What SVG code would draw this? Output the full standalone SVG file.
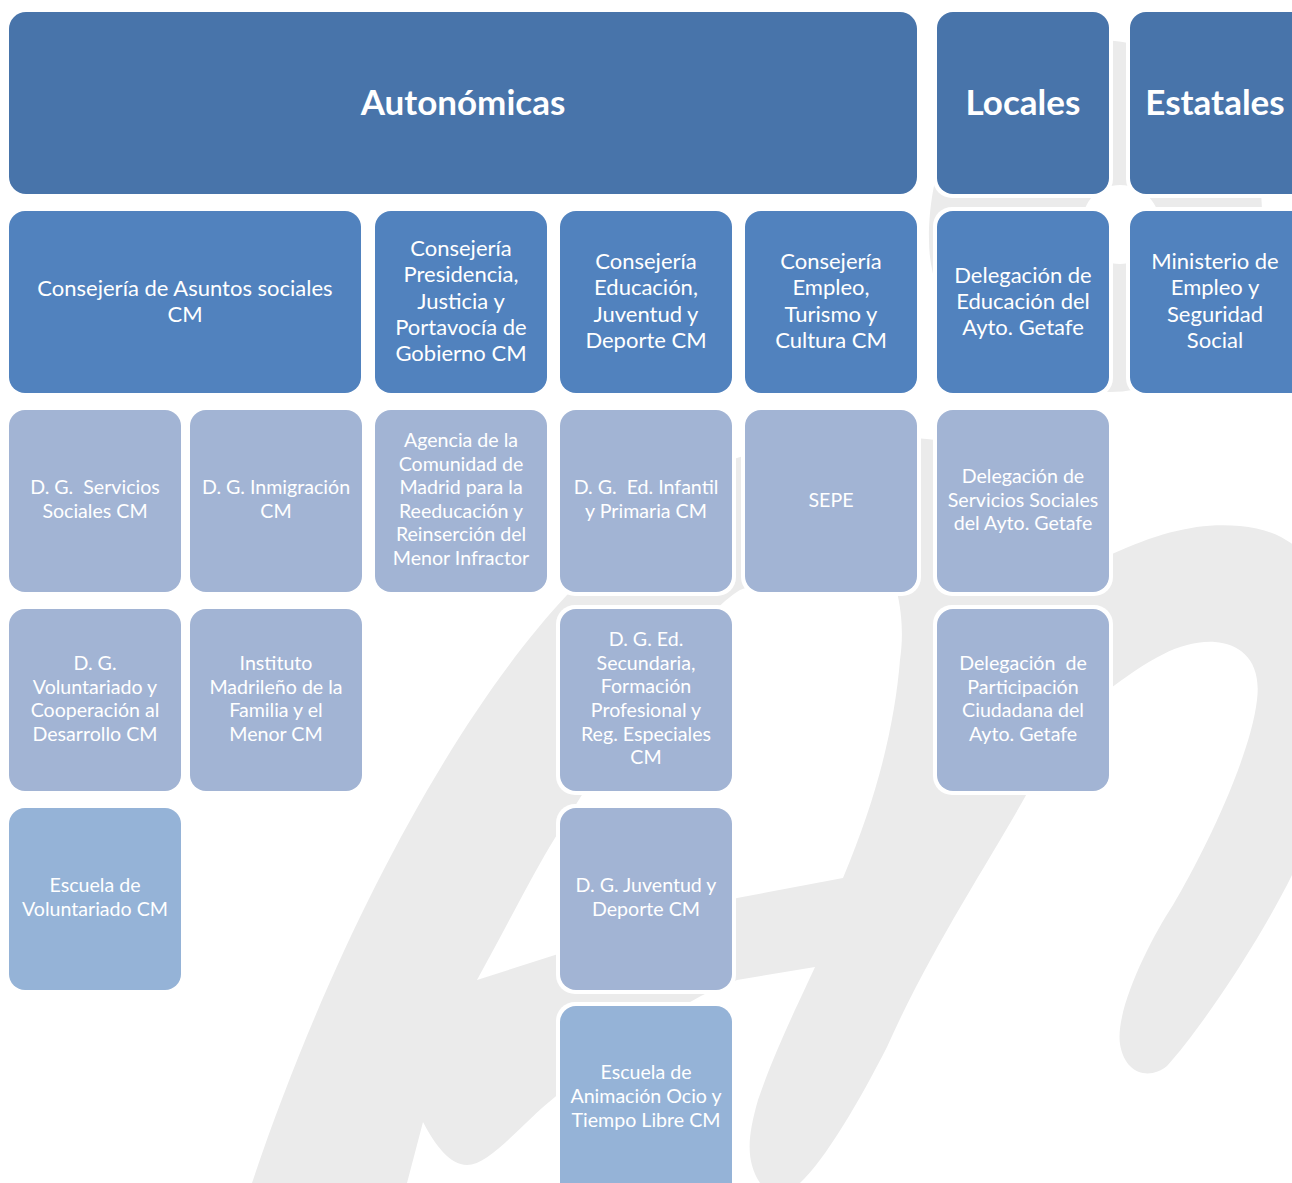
<svg xmlns="http://www.w3.org/2000/svg" width="1292" height="1183" viewBox="0 0 1292 1183">
<style>
.wm{fill:#ebebeb;fill-rule:evenodd}
.halo{fill:#ffffff}
.h1{fill:#4874aa}
.c2{fill:#5182be}
.c3{fill:#a2b4d4}
.c5{fill:#95b3d7}
text{font-family:Lato,"Open Sans","Liberation Sans",sans-serif;fill:#ffffff;text-anchor:middle}
.th{font-size:35px;font-weight:bold}
.t2{font-size:22px}
.t3{font-size:19.6px}
</style>
<rect x="0" y="0" width="1292" height="1183" fill="#ffffff"/>
<g id="watermark">
<path class="wm" d="M 1095,40 C 1190,40 1262,110 1262,210 C 1262,320 1190,392 1110,392 C 1010,392 929,330 929,240 C 929,120 1000,40 1095,40 Z M 1120,185 C 1145,185 1160,205 1160,225 C 1160,250 1140,264 1120,264 C 1095,264 1082,245 1082,225 C 1082,200 1100,185 1120,185 Z"/>
<path class="wm" d="M 252,1183 C 330,950 450,720 567,595 C 640,520 690,470 737,458 C 790,440 880,432 935,440 C 1000,450 1050,560 1112,554 C 1160,532 1200,522 1240,526 C 1290,530 1330,560 1330,640 C 1330,740 1310,840 1292,875 C 1260,940 1200,1030 1167,1066 C 1150,1080 1125,1075 1120,1044 C 1115,1010 1150,940 1173,905 C 1200,860 1250,760 1257,700 C 1262,660 1240,644 1215,642 C 1180,640 1150,660 1115,685 C 1080,710 1045,760 1025,797 C 990,860 930,950 887,1047 C 860,1100 825,1160 800,1183 L 760,1183 C 745,1160 748,1135 758,1100 C 775,1050 800,1000 815,967 L 737,980 C 680,1000 600,1060 555,1097 C 520,1125 490,1165 467,1165 C 450,1165 435,1145 423,1122 L 407,1183 Z M 477,980 C 510,920 535,870 555,838 C 610,750 690,620 740,590 C 780,574 860,576 896,588 C 903,615 903,640 900,660 C 895,720 880,790 843,878 L 737,898 L 555,955 Z"/>
</g>
<g id="connectors"></g>
<g id="n-autonomicas"><rect class="halo" x="5" y="8" width="916" height="190" rx="20"/><rect class="h1" x="9" y="12" width="908" height="182" rx="17"/><text class="th" x="463" y="115">Autonómicas</text></g>
<g id="n-locales"><rect class="halo" x="933" y="8" width="180" height="190" rx="19"/><rect class="h1" x="937" y="12" width="172" height="182" rx="16"/><text class="th" x="1023" y="115">Locales</text></g>
<g id="n-estatales"><rect class="halo" x="1126" y="8" width="190" height="190" rx="19"/><rect class="h1" x="1130" y="12" width="182" height="182" rx="16"/><text class="th" x="1215" y="115">Estatales</text></g>

<g id="n-asuntos"><rect class="halo" x="5" y="207" width="360" height="190" rx="19"/><rect class="c2" x="9" y="211" width="352" height="182" rx="16"/><text class="t2" x="185" y="296">Consejería de Asuntos sociales</text><text class="t2" x="185" y="322">CM</text></g>
<g id="n-presidencia"><rect class="halo" x="371" y="207" width="180" height="190" rx="19"/><rect class="c2" x="375" y="211" width="172" height="182" rx="16"/><text class="t2" x="461" y="256">Consejería</text><text class="t2" x="461" y="282">Presidencia,</text><text class="t2" x="461" y="309">Justicia y</text><text class="t2" x="461" y="335">Portavocía de</text><text class="t2" x="461" y="361">Gobierno CM</text></g>
<g id="n-educacion"><rect class="halo" x="556" y="207" width="180" height="190" rx="19"/><rect class="c2" x="560" y="211" width="172" height="182" rx="16"/><text class="t2" x="646" y="269">Consejería</text><text class="t2" x="646" y="295">Educación,</text><text class="t2" x="646" y="322">Juventud y</text><text class="t2" x="646" y="348">Deporte CM</text></g>
<g id="n-empleo"><rect class="halo" x="741" y="207" width="180" height="190" rx="19"/><rect class="c2" x="745" y="211" width="172" height="182" rx="16"/><text class="t2" x="831" y="269">Consejería</text><text class="t2" x="831" y="295">Empleo,</text><text class="t2" x="831" y="322">Turismo y</text><text class="t2" x="831" y="348">Cultura CM</text></g>
<g id="n-deleg-educacion"><rect class="halo" x="933" y="207" width="180" height="190" rx="19"/><rect class="c2" x="937" y="211" width="172" height="182" rx="16"/><text class="t2" x="1023" y="283">Delegación de</text><text class="t2" x="1023" y="309">Educación del</text><text class="t2" x="1023" y="335">Ayto. Getafe</text></g>
<g id="n-ministerio"><rect class="halo" x="1126" y="207" width="190" height="190" rx="19"/><rect class="c2" x="1130" y="211" width="182" height="182" rx="16"/><text class="t2" x="1215" y="269">Ministerio de</text><text class="t2" x="1215" y="295">Empleo y</text><text class="t2" x="1215" y="322">Seguridad</text><text class="t2" x="1215" y="348">Social</text></g>

<g id="n-dg-servicios"><rect class="halo" x="5" y="406" width="180" height="190" rx="19"/><rect class="c3" x="9" y="410" width="172" height="182" rx="16"/><text class="t3" x="95" y="494" xml:space="preserve">D. G.  Servicios</text><text class="t3" x="95" y="518">Sociales CM</text></g>
<g id="n-dg-inmigracion"><rect class="halo" x="186" y="406" width="180" height="190" rx="19"/><rect class="c3" x="190" y="410" width="172" height="182" rx="16"/><text class="t3" x="276" y="494">D. G. Inmigración</text><text class="t3" x="276" y="518">CM</text></g>
<g id="n-agencia"><rect class="halo" x="371" y="406" width="180" height="190" rx="19"/><rect class="c3" x="375" y="410" width="172" height="182" rx="16"/><text class="t3" x="461" y="447">Agencia de la</text><text class="t3" x="461" y="471">Comunidad de</text><text class="t3" x="461" y="494">Madrid para la</text><text class="t3" x="461" y="518">Reeducación y</text><text class="t3" x="461" y="541">Reinserción del</text><text class="t3" x="461" y="565">Menor Infractor</text></g>
<g id="n-dg-infantil"><rect class="halo" x="556" y="406" width="180" height="190" rx="19"/><rect class="c3" x="560" y="410" width="172" height="182" rx="16"/><text class="t3" x="646" y="494" xml:space="preserve">D. G.  Ed. Infantil</text><text class="t3" x="646" y="518">y Primaria CM</text></g>
<g id="n-sepe"><rect class="halo" x="741" y="406" width="180" height="190" rx="19"/><rect class="c3" x="745" y="410" width="172" height="182" rx="16"/><text class="t3" x="831" y="507">SEPE</text></g>
<g id="n-deleg-servicios"><rect class="halo" x="933" y="406" width="180" height="190" rx="19"/><rect class="c3" x="937" y="410" width="172" height="182" rx="16"/><text class="t3" x="1023" y="483">Delegación de</text><text class="t3" x="1023" y="507">Servicios Sociales</text><text class="t3" x="1023" y="530">del Ayto. Getafe</text></g>

<g id="n-dg-voluntariado"><rect class="halo" x="5" y="605" width="180" height="190" rx="19"/><rect class="c3" x="9" y="609" width="172" height="182" rx="16"/><text class="t3" x="95" y="670">D. G.</text><text class="t3" x="95" y="694">Voluntariado y</text><text class="t3" x="95" y="717">Cooperación al</text><text class="t3" x="95" y="741">Desarrollo CM</text></g>
<g id="n-instituto"><rect class="halo" x="186" y="605" width="180" height="190" rx="19"/><rect class="c3" x="190" y="609" width="172" height="182" rx="16"/><text class="t3" x="276" y="670">Instituto</text><text class="t3" x="276" y="694">Madrileño de la</text><text class="t3" x="276" y="717">Familia y el</text><text class="t3" x="276" y="741">Menor CM</text></g>
<g id="n-dg-secundaria"><rect class="halo" x="556" y="605" width="180" height="190" rx="19"/><rect class="c3" x="560" y="609" width="172" height="182" rx="16"/><text class="t3" x="646" y="646">D. G. Ed.</text><text class="t3" x="646" y="670">Secundaria,</text><text class="t3" x="646" y="693">Formación</text><text class="t3" x="646" y="717">Profesional y</text><text class="t3" x="646" y="741">Reg. Especiales</text><text class="t3" x="646" y="764">CM</text></g>
<g id="n-deleg-participacion"><rect class="halo" x="933" y="605" width="180" height="190" rx="19"/><rect class="c3" x="937" y="609" width="172" height="182" rx="16"/><text class="t3" x="1023" y="670" xml:space="preserve">Delegación  de</text><text class="t3" x="1023" y="694">Participación</text><text class="t3" x="1023" y="717">Ciudadana del</text><text class="t3" x="1023" y="741">Ayto. Getafe</text></g>

<g id="n-escuela-voluntariado"><rect class="halo" x="5" y="804" width="180" height="190" rx="19"/><rect class="c5" x="9" y="808" width="172" height="182" rx="16"/><text class="t3" x="95" y="892">Escuela de</text><text class="t3" x="95" y="916">Voluntariado CM</text></g>
<g id="n-dg-juventud"><rect class="halo" x="556" y="804" width="180" height="190" rx="19"/><rect class="c3" x="560" y="808" width="172" height="182" rx="16"/><text class="t3" x="646" y="892">D. G. Juventud y</text><text class="t3" x="646" y="916">Deporte CM</text></g>
<g id="n-escuela-animacion"><rect class="halo" x="556" y="1002" width="180" height="200" rx="19"/><rect class="c5" x="560" y="1006" width="172" height="192" rx="16"/><text class="t3" x="646" y="1079">Escuela de</text><text class="t3" x="646" y="1103">Animación Ocio y</text><text class="t3" x="646" y="1127">Tiempo Libre CM</text></g>
</svg>
